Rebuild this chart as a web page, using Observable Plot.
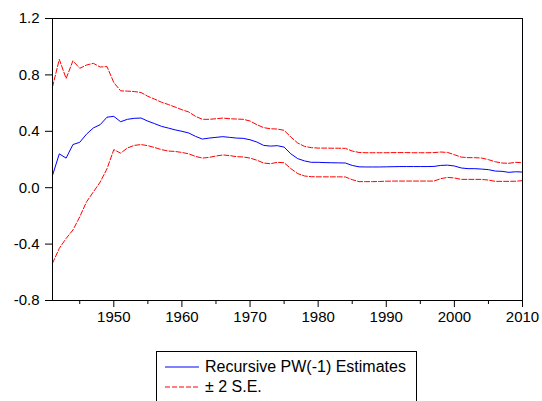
<!DOCTYPE html>
<html>
<head>
<meta charset="utf-8">
<script src="https://cdn.jsdelivr.net/npm/d3@7"></script>
<script src="https://cdn.jsdelivr.net/npm/@observablehq/plot@0.6"></script>
<style>
  html, body { margin: 0; padding: 0; background: #fff; overflow: hidden; }
  #chart { width: 542px; }
  .legend {
    margin-left: 156px;
    margin-top: 21px;
    width: 261px;
    height: 70px;
    border: 1px solid #000;
    box-sizing: border-box;
    padding-top: 5px;
    font-family: "Liberation Sans", Arial, sans-serif;
    font-size: 16px;
    color: #000;
  }
  .legend .row { display: flex; align-items: center; height: 20px; }
  .legend svg { margin-left: 8px; margin-right: 6px; }
</style>
</head>
<body>
<div id="chart"></div>
<div class="legend">
  <div class="row"><svg width="34" height="4"><line x1="0" x2="34" y1="2" y2="2" stroke="#0000ff" stroke-width="1"/></svg>Recursive PW(-1) Estimates</div>
  <div class="row"><svg width="34" height="4"><line x1="0" x2="34" y1="2" y2="2" stroke="#ff0000" stroke-width="1" stroke-dasharray="5,2"/></svg>± 2 S.E.</div>
</div>
<script>
// años de la muestra recursiva
const years = [1941, 1942, 1943, 1944, 1945, 1946, 1947, 1948, 1949, 1950,
  1951, 1952, 1953, 1954, 1955, 1956, 1957, 1958, 1959, 1960,
  1961, 1962, 1963, 1964, 1965, 1966, 1967, 1968, 1969, 1970,
  1971, 1972, 1973, 1974, 1975, 1976, 1977, 1978, 1979, 1980,
  1981, 1982, 1983, 1984, 1985, 1986, 1987, 1988, 1989, 1990,
  1991, 1992, 1993, 1994, 1995, 1996, 1997, 1998, 1999, 2000,
  2001, 2002, 2003, 2004, 2005, 2006, 2007, 2008, 2009, 2010]

const estimate = [0.087, 0.24, 0.21, 0.306, 0.322, 0.38, 0.424, 0.447, 0.50, 0.506,
  0.468, 0.485, 0.492, 0.494, 0.472, 0.454, 0.435, 0.423, 0.41, 0.40,
  0.388, 0.364, 0.345, 0.352, 0.357, 0.362, 0.357, 0.352, 0.35, 0.34,
  0.324, 0.30, 0.295, 0.298, 0.288, 0.24, 0.206, 0.19, 0.18, 0.18,
  0.178, 0.177, 0.176, 0.175, 0.158, 0.148, 0.147, 0.147, 0.147, 0.148,
  0.149, 0.15, 0.15, 0.15, 0.15, 0.15, 0.151, 0.158, 0.16, 0.154,
  0.14, 0.135, 0.135, 0.132, 0.128, 0.118, 0.116, 0.109, 0.113, 0.111]

const upper = [0.715, 0.91, 0.774, 0.90, 0.847, 0.87, 0.882, 0.856, 0.859, 0.746,
  0.687, 0.685, 0.682, 0.675, 0.648, 0.628, 0.606, 0.59, 0.572, 0.553,
  0.537, 0.506, 0.485, 0.485, 0.489, 0.494, 0.489, 0.487, 0.485, 0.473,
  0.447, 0.426, 0.418, 0.416, 0.407, 0.359, 0.317, 0.293, 0.284, 0.281,
  0.281, 0.28, 0.28, 0.279, 0.26, 0.25, 0.248, 0.248, 0.248, 0.248,
  0.249, 0.249, 0.249, 0.248, 0.248, 0.248, 0.249, 0.253, 0.25, 0.234,
  0.217, 0.213, 0.213, 0.21, 0.199, 0.184, 0.175, 0.173, 0.18, 0.177]

const lower = [-0.536, -0.43, -0.36, -0.30, -0.207, -0.10, -0.03, 0.04, 0.134, 0.27,
  0.245, 0.282, 0.30, 0.306, 0.298, 0.285, 0.27, 0.26, 0.257, 0.25,
  0.24, 0.222, 0.21, 0.215, 0.225, 0.232, 0.228, 0.22, 0.218, 0.21,
  0.195, 0.175, 0.17, 0.18, 0.177, 0.135, 0.10, 0.083, 0.078, 0.077,
  0.077, 0.077, 0.077, 0.076, 0.057, 0.043, 0.043, 0.043, 0.044, 0.046,
  0.047, 0.047, 0.047, 0.047, 0.047, 0.047, 0.047, 0.064, 0.073, 0.069,
  0.059, 0.059, 0.059, 0.059, 0.054, 0.045, 0.045, 0.045, 0.046, 0.05]

const yTicks = [-0.8, -0.4, 0.0, 0.4, 0.8, 1.2]
const xMajor = [1950, 1960, 1970, 1980, 1990, 2000, 2010]
const xMinor = [1945, 1955, 1965, 1975, 1985, 1995, 2005]

/* tabla larga: una fila por año y serie */
const rows = years.flatMap((yr, i) => [
  {year: yr, value: estimate[i], serie: 'est'},
  {year: yr, value: upper[i], serie: 'up'},
  {year: yr, value: lower[i], serie: 'low'},
])

let chart = Plot.plot({
  width: 542,
  height: 330,
  marginLeft: 52,
  marginRight: 20,
  marginTop: 18,
  marginBottom: 30,
  style: {fontFamily: '"Liberation Sans", Arial, sans-serif', fontSize: '15px', color: '#000'},
  x: {domain: [1941, 2010], label: null},
  y: {domain: [-0.8, 1.2], label: null},
  marks: [
    Plot.axisY({ticks: yTicks, tickSize: 7, tickPadding: 6, tickFormat: d => d.toFixed(1), label: null, fontSize: 15}),
    Plot.axisX({ticks: xMinor, tickSize: 4, tickFormat: () => '', label: null}),
    Plot.axisX({ticks: xMajor, tickSize: 7, tickPadding: 4, tickFormat: d => String(d), label: null, fontSize: 15}),
    Plot.line(rows.filter(d => d.serie === 'up'), {x: 'year', y: 'value', stroke: '#ff0000', strokeWidth: 1, strokeDasharray: '5,2'}),
    Plot.line(rows.filter(d => d.serie === 'low'), {x: 'year', y: 'value', stroke: '#ff0000', strokeWidth: 1, strokeDasharray: '5,2'}),
    Plot.line(rows.filter(d => d.serie === 'est'), {x: 'year', y: 'value', stroke: '#0000ff', strokeWidth: 1}),
    Plot.frame({stroke: '#000', strokeWidth: 1}),
  ],
})

d3.select('#chart').append(() => chart)
</script>
</body>
</html>
